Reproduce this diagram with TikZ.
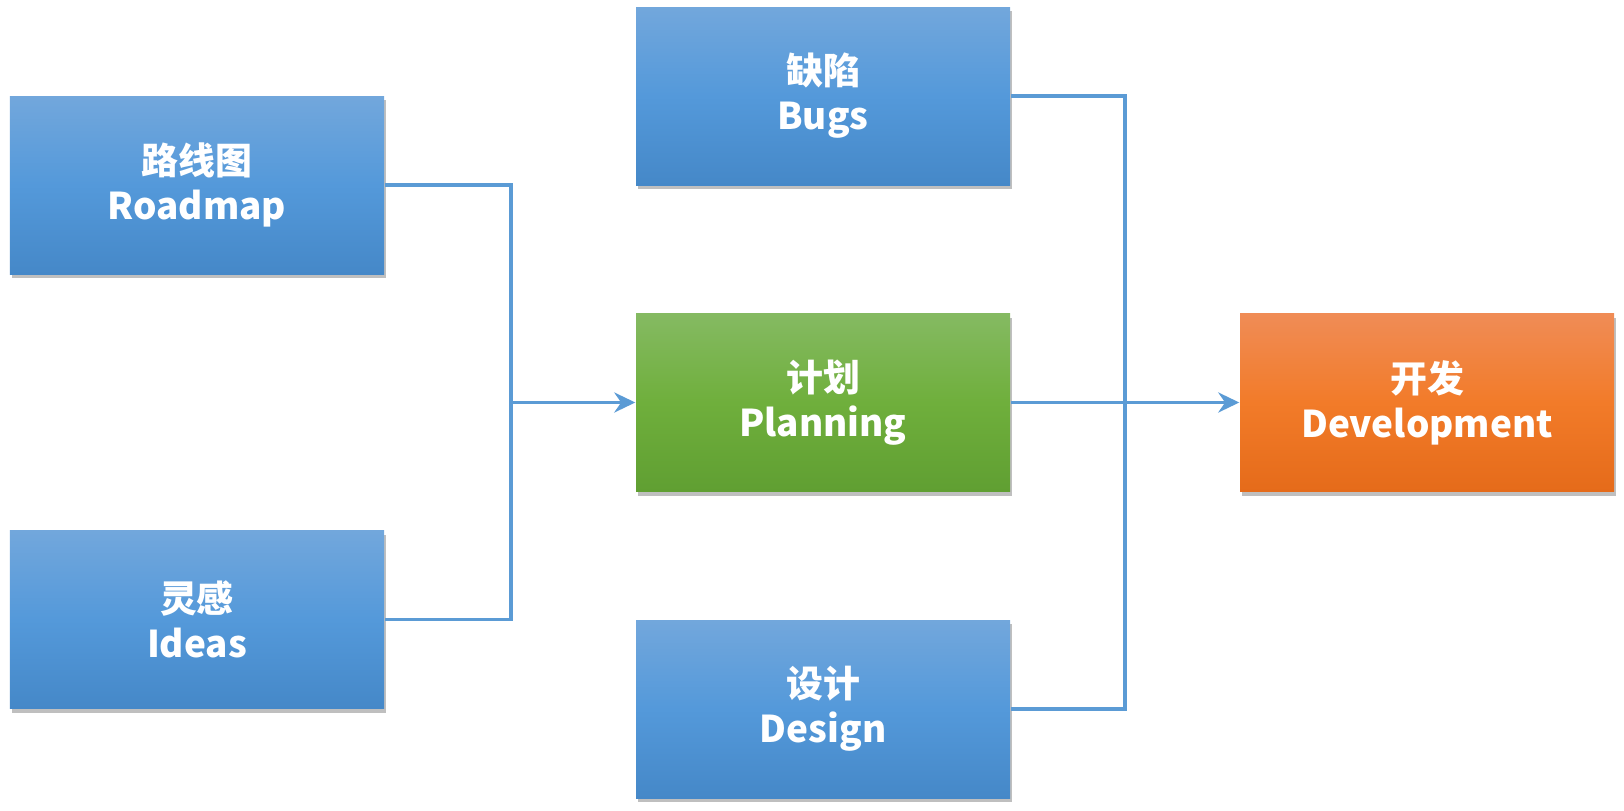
\documentclass[tikz,border=0pt]{standalone}
\usepackage{fontspec}
\setmainfont{Noto Sans CJK SC}
\usetikzlibrary{arrows.meta,shadows}
\definecolor{linkblue}{HTML}{5B9BD5}
\definecolor{bluetop}{HTML}{72A7DC}
\definecolor{bluemid}{HTML}{5499DA}
\definecolor{bluebot}{HTML}{4588C8}
\definecolor{greentop}{HTML}{85BA62}
\definecolor{greenmid}{HTML}{6FAF3C}
\definecolor{greenbot}{HTML}{609F32}
\definecolor{orangetop}{HTML}{F08C56}
\definecolor{orangemid}{HTML}{F27B29}
\definecolor{orangebot}{HTML}{E56B1A}
\tikzset{
  stage/.style={minimum width=3.74cm, minimum height=1.78cm, inner sep=0pt,
    align=center, text=white, font=\bfseries\fontsize{10.5}{12.8}\selectfont,
    drop shadow={shadow xshift=0.02cm, shadow yshift=-0.04cm, opacity=0.5}},
  bluestage/.style={stage, top color=bluetop, bottom color=bluebot, middle color=bluemid},
  greenstage/.style={stage, top color=greentop, bottom color=greenbot, middle color=greenmid},
  orangestage/.style={stage, top color=orangetop, bottom color=orangebot, middle color=orangemid},
  link/.style={draw=linkblue, line width=0.035cm, line join=miter},
  flow/.style={link, -{Stealth[length=0.21cm, width=0.2cm]}}
}
\begin{document}
\begin{tikzpicture}
	\useasboundingbox (0,0) rectangle (16.24,-8.11);
	% inputs
	\node[bluestage] (roadmap) at (1.97,-1.85) {路线图\\Roadmap};
	\node[bluestage] (ideas) at (1.97,-6.195) {灵感\\Ideas};
	\node[bluestage] (bugs) at (8.23,-0.96) {缺陷\\Bugs};
	\node[greenstage] (planning) at (8.23,-4.025) {计划\\Planning};
	\node[bluestage] (design) at (8.23,-7.09) {设计\\Design};
	\node[orangestage] (development) at (14.27,-4.025) {开发\\Development};
	% junctions
	\coordinate (jleft) at (5.11,-4.025);
	\coordinate (jright) at (11.25,-4.025);
	\draw[link] (roadmap.east) -| (jleft) |- (ideas.east);
	\draw[flow] (jleft) -- (planning.west);
	\draw[link] (bugs.east) -| (jright) |- (design.east);
	\draw[flow] (planning.east) -- (development.west);
\end{tikzpicture}
\end{document}
